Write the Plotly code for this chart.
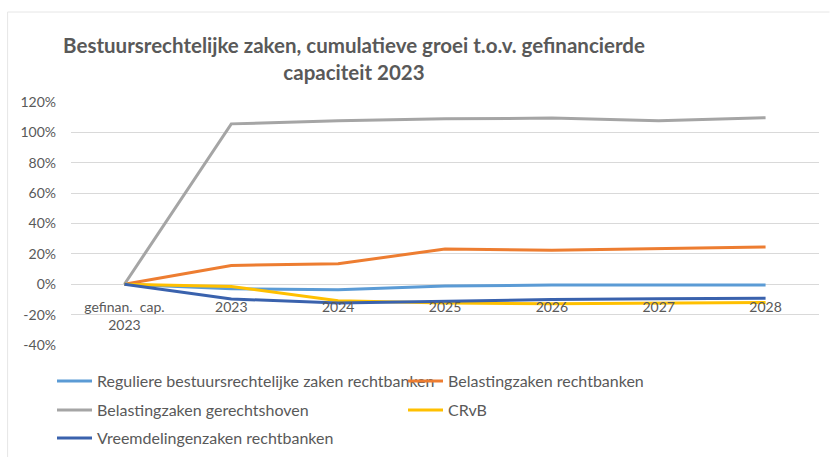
import plotly.graph_objects as go

categories = ["gefinan.  cap.<br>2023", "2023", "2024", "2025", "2026", "2027", "2028"]
series_names = [
    "Reguliere bestuursrechtelijke zaken rechtbanken",
    "Belastingzaken rechtbanken",
    "Belastingzaken gerechtshoven",
    "CRvB",
    "Vreemdelingenzaken rechtbanken",
]
reguliere = [0, -0.030, -0.036, -0.012, -0.005, -0.005, -0.005]
belasting_rb = [0, 0.124, 0.135, 0.232, 0.224, 0.235, 0.245]
belasting_hof = [0, 1.056, 1.077, 1.089, 1.094, 1.076, 1.097]
crvb = [0, -0.015, -0.108, -0.124, -0.128, -0.123, -0.120]
vreemdelingen = [0, -0.097, -0.124, -0.110, -0.100, -0.095, -0.092]

y_tickvals = [-0.4, -0.2, 0, 0.2, 0.4, 0.6, 0.8, 1.0, 1.2]
y_ticktext = ["-40%", "-20%", "0%", "20%", "40%", "60%", "80%", "100%", "120%"]

colors = ["#5B9BD5", "#ED7D31", "#A5A5A5", "#FFC000", "#3A62AD"]
values = [reguliere, belasting_rb, belasting_hof, crvb, vreemdelingen]
legend_ids = ["legend", "legend", "legend2", "legend2", "legend3"]

FONT = "Lato, Open Sans, sans-serif"
GREY = "#595959"
W, H = 830, 457

fig = go.Figure()
for name, vals, col, lg in zip(series_names, values, colors, legend_ids):
    fig.add_trace(go.Scatter(
        x=categories, y=vals, name=name, mode="lines",
        line=dict(color=col, width=3), legend=lg,
    ))

ymin, ymax = -0.4, 1.2


def legend_at(ycenter):
    return dict(
        orientation="h", xref="container", yref="container",
        x=52 / W, xanchor="left", y=1 - ycenter / H, yanchor="middle",
        entrywidth=301, entrywidthmode="pixels", itemwidth=35,
        font=dict(family=FONT, size=16, color=GREY), bgcolor="rgba(0,0,0,0)",
        traceorder="normal",
    )


fig.update_layout(
    width=W, height=H,
    margin=dict(l=70.5, r=10.5, t=102, b=112, autoexpand=False),
    paper_bgcolor="white", plot_bgcolor="white",
    font=dict(family=FONT, color=GREY, size=14),
    title=dict(
        text="<b>Bestuursrechtelijke zaken, cumulatieve groei t.o.v. gefinancierde<br>capaciteit 2023</b>",
        x=354 / W, xanchor="center", xref="container",
        y=1 - 53 / H, yanchor="top", yref="container",
        font=dict(family=FONT, size=20.5, color=GREY),
    ),
    xaxis=dict(
        type="category", range=[-0.5, 6.5], showgrid=False, zeroline=False,
        showline=False, ticks="", anchor="free",
        position=(0 - ymin) / (ymax - ymin),
        ticklabelstandoff=13, tickfont=dict(family=FONT, size=14, color=GREY),
    ),
    yaxis=dict(
        range=[ymin, ymax], tickvals=y_tickvals, ticktext=y_ticktext,
        showgrid=True, gridcolor="#D9D9D9", gridwidth=1,
        zeroline=False, showline=False, ticks="",
        ticklabelstandoff=14, tickfont=dict(family=FONT, size=14, color=GREY),
    ),
    legend=legend_at(381),
    legend2=legend_at(410),
    legend3=legend_at(438),
    showlegend=True,
)

# faint chart frame (top and left edges)
px0, pw, pb, ph = 70.5, 749, 345, 243
fig.add_shape(type="line", xref="paper", yref="paper",
              x0=(7 - px0) / pw, x1=(W - px0) / pw,
              y0=(pb - 12) / ph, y1=(pb - 12) / ph,
              line=dict(color="#E6E6E6", width=1))
fig.add_shape(type="line", xref="paper", yref="paper",
              x0=(7 - px0) / pw, x1=(7 - px0) / pw,
              y0=(pb - 12) / ph, y1=(pb - H) / ph,
              line=dict(color="#E6E6E6", width=1))

fig.write_html("out.html", config={"displayModeBar": False},
               post_script="document.body.style.margin='0px';")
